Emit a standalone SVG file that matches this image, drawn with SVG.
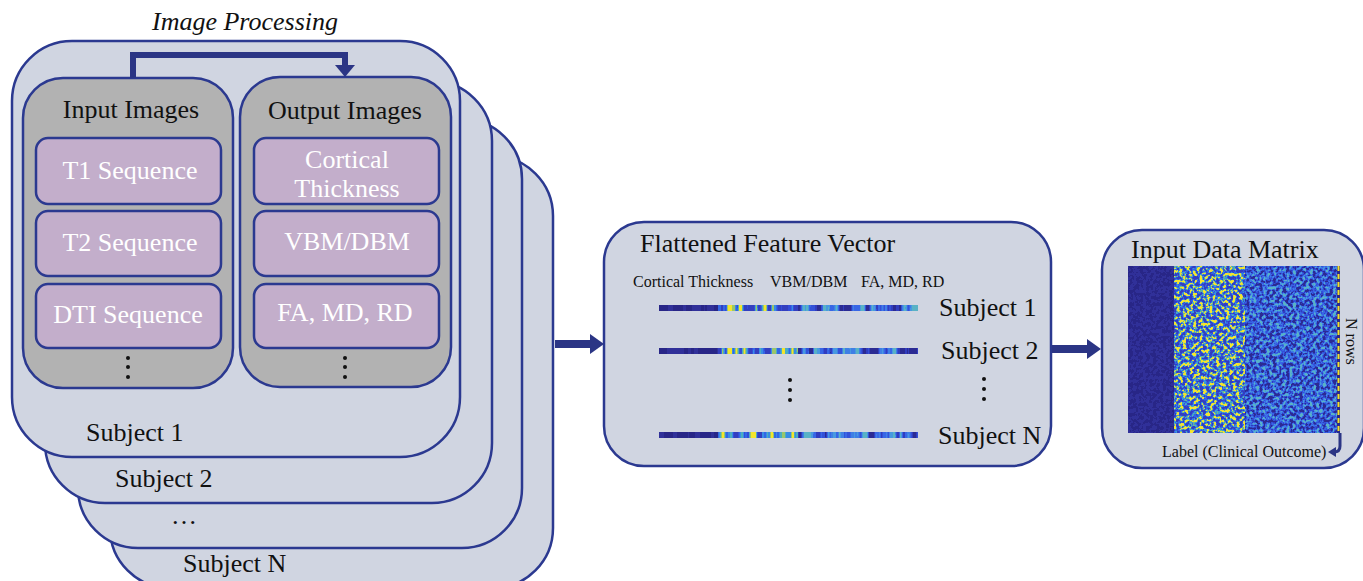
<svg xmlns="http://www.w3.org/2000/svg" width="1363" height="581" viewBox="0 0 1363 581">
<style>
.card{fill:#D0D5E1;stroke:#2B3990;stroke-width:2.5}
.panel{fill:#B2B2B2;stroke:#2B3990;stroke-width:2.5}
.box{fill:#C3AECB;stroke:#2B3990;stroke-width:2.5}
.t{font-family:"Liberation Serif","Times New Roman",serif;font-size:26px;fill:#111}
.w{font-family:"Liberation Serif","Times New Roman",serif;font-size:26px;fill:#fff;text-anchor:middle}
.s{font-family:"Liberation Serif","Times New Roman",serif;font-size:16px;fill:#111}
.c{text-anchor:middle}
.dot{fill:#111}
.arrow{fill:#2B3585}
</style>
<defs>
<filter id="mDark" x="0" y="0" width="1" height="1" color-interpolation-filters="sRGB">
<feTurbulence type="fractalNoise" baseFrequency="0.3" numOctaves="2" seed="2"/>
<feColorMatrix type="matrix" values="1 0 0 0 0 1 0 0 0 0 1 0 0 0 0 0 0 0 0 1"/>
<feComponentTransfer>
<feFuncR type="discrete" tableValues=".16 .16 .16 .16 .16 .16 .16 .16 .16 .16 .19 .19 .19 .19 .19 .19 .19 .19 .19 .19"/>
<feFuncG type="discrete" tableValues=".15 .15 .15 .15 .15 .15 .15 .15 .15 .15 .19 .19 .19 .19 .19 .19 .19 .19 .19 .19"/>
<feFuncB type="discrete" tableValues=".53 .53 .53 .53 .53 .53 .53 .53 .53 .53 .6 .6 .6 .6 .6 .6 .6 .6 .6 .6"/>
</feComponentTransfer>
</filter>
<filter id="mYel" x="0" y="0" width="1" height="1" color-interpolation-filters="sRGB">
<feTurbulence type="fractalNoise" baseFrequency="0.3" numOctaves="2" seed="5"/>
<feColorMatrix type="matrix" values="1 0 0 0 0 1 0 0 0 0 1 0 0 0 0 0 0 0 0 1"/>
<feComponentTransfer>
<feFuncR type="discrete" tableValues=".2 .2 .2 .2 .2 .2 .2 .2 .2 .2 .22 .4 .88 .96 .96 .96 .96 .96 .96 .96"/>
<feFuncG type="discrete" tableValues=".25 .25 .25 .25 .25 .25 .25 .25 .3 .4 .6 .72 .84 .9 .9 .9 .9 .9 .9 .9"/>
<feFuncB type="discrete" tableValues=".75 .75 .75 .75 .75 .75 .75 .75 .85 .9 .85 .6 .28 .18 .18 .18 .18 .18 .18 .18"/>
</feComponentTransfer>
</filter>
<filter id="mBlue" x="0" y="0" width="1" height="1" color-interpolation-filters="sRGB">
<feTurbulence type="fractalNoise" baseFrequency="0.3" numOctaves="2" seed="9"/>
<feColorMatrix type="matrix" values="1 0 0 0 0 1 0 0 0 0 1 0 0 0 0 0 0 0 0 1"/>
<feComponentTransfer>
<feFuncR type="discrete" tableValues=".17 .17 .17 .17 .17 .17 .17 .17 .19 .2 .22 .25 .28 .35 .35 .35 .35 .35 .35 .35"/>
<feFuncG type="discrete" tableValues=".17 .17 .17 .17 .17 .17 .17 .17 .24 .32 .4 .5 .6 .7 .7 .7 .7 .7 .7 .7"/>
<feFuncB type="discrete" tableValues=".58 .58 .58 .58 .58 .58 .58 .58 .75 .85 .9 .9 .88 .78 .78 .78 .78 .78 .78 .78"/>
</feComponentTransfer>
</filter>
<filter id="sDark" x="0" y="0" width="1" height="1" color-interpolation-filters="sRGB">
<feTurbulence type="fractalNoise" baseFrequency="0.18 0.001" numOctaves="2" seed="3"/>
<feColorMatrix type="matrix" values="1 0 0 0 0 1 0 0 0 0 1 0 0 0 0 0 0 0 0 1"/>
<feComponentTransfer>
<feFuncR type="discrete" tableValues=".16 .16 .16 .16 .16 .16 .16 .16 .16 .16 .19 .19 .19 .19 .19 .19 .19 .19 .19 .19"/>
<feFuncG type="discrete" tableValues=".15 .15 .15 .15 .15 .15 .15 .15 .15 .15 .19 .19 .19 .19 .19 .19 .19 .19 .19 .19"/>
<feFuncB type="discrete" tableValues=".53 .53 .53 .53 .53 .53 .53 .53 .53 .53 .6 .6 .6 .6 .6 .6 .6 .6 .6 .6"/>
</feComponentTransfer>
</filter>
<filter id="sYel" x="0" y="0" width="1" height="1" color-interpolation-filters="sRGB">
<feTurbulence type="fractalNoise" baseFrequency="0.18 0.001" numOctaves="2" seed="7"/>
<feColorMatrix type="matrix" values="1 0 0 0 0 1 0 0 0 0 1 0 0 0 0 0 0 0 0 1"/>
<feComponentTransfer>
<feFuncR type="discrete" tableValues=".2 .2 .2 .2 .2 .2 .2 .2 .2 .2 .22 .3 .6 .96 .96 .96 .96 .96 .96 .96"/>
<feFuncG type="discrete" tableValues=".25 .25 .25 .25 .25 .25 .25 .25 .3 .4 .55 .68 .78 .9 .9 .9 .9 .9 .9 .9"/>
<feFuncB type="discrete" tableValues=".75 .75 .75 .75 .75 .75 .75 .75 .85 .9 .9 .75 .42 .18 .18 .18 .18 .18 .18 .18"/>
</feComponentTransfer>
</filter>
<filter id="sBlue" x="0" y="0" width="1" height="1" color-interpolation-filters="sRGB">
<feTurbulence type="fractalNoise" baseFrequency="0.18 0.001" numOctaves="2" seed="11"/>
<feColorMatrix type="matrix" values="1 0 0 0 0 1 0 0 0 0 1 0 0 0 0 0 0 0 0 1"/>
<feComponentTransfer>
<feFuncR type="discrete" tableValues=".17 .17 .17 .17 .17 .17 .17 .17 .19 .2 .22 .25 .28 .35 .35 .35 .35 .35 .35 .35"/>
<feFuncG type="discrete" tableValues=".17 .17 .17 .17 .17 .17 .17 .17 .24 .32 .4 .5 .6 .7 .7 .7 .7 .7 .7 .7"/>
<feFuncB type="discrete" tableValues=".58 .58 .58 .58 .58 .58 .58 .58 .75 .85 .9 .9 .88 .78 .78 .78 .78 .78 .78 .78"/>
</feComponentTransfer>
</filter>
</defs>

<rect width="1363" height="581" fill="#fff"/>

<text class="t c" x="245" y="30" font-style="italic">Image Processing</text>

<g id="subjectN">
<rect class="card" x="110" y="156" width="443" height="432" rx="60"/>
<text class="t" x="183" y="572">Subject N</text>
</g>
<g id="subject3">
<rect class="card" x="78" y="119" width="444" height="429" rx="60"/>
<text class="t" x="171" y="524">…</text>
</g>
<g id="subject2">
<rect class="card" x="45" y="81" width="447" height="422" rx="60"/>
<text class="t" x="115" y="487">Subject 2</text>
</g>
<g id="subject1">
<rect class="card" x="12" y="41" width="448" height="416" rx="60"/>
<text class="t" x="86" y="441">Subject 1</text>
</g>

<g id="input-images">
<rect class="panel" x="23" y="78" width="210" height="310" rx="40"/>
<text class="t c" x="131" y="118">Input Images</text>
<rect class="box" x="36" y="138" width="185" height="66" rx="12"/>
<text class="w" x="130" y="179">T1 Sequence</text>
<rect class="box" x="36" y="211" width="185" height="65" rx="12"/>
<text class="w" x="130" y="251">T2 Sequence</text>
<rect class="box" x="36" y="284" width="185" height="64" rx="12"/>
<text class="w" x="128" y="323">DTI Sequence</text>
<circle class="dot" cx="128" cy="358" r="2"/>
<circle class="dot" cx="128" cy="367" r="2"/>
<circle class="dot" cx="128" cy="377" r="2"/>
</g>

<g id="output-images">
<rect class="panel" x="240" y="77" width="211" height="310" rx="40"/>
<text class="t c" x="345" y="119">Output Images</text>
<rect class="box" x="254" y="138" width="185" height="66" rx="12"/>
<text class="w" x="347" y="168">Cortical</text>
<text class="w" x="347" y="197">Thickness</text>
<rect class="box" x="254" y="211" width="185" height="65" rx="12"/>
<text class="w" x="347" y="250">VBM/DBM</text>
<rect class="box" x="254" y="284" width="185" height="64" rx="12"/>
<text class="w" x="345" y="321">FA, MD, RD</text>
<circle class="dot" cx="345" cy="358" r="2"/>
<circle class="dot" cx="345" cy="367" r="2"/>
<circle class="dot" cx="345" cy="377" r="2"/>
</g>

<g id="flattened-feature-vector">
<rect class="card" x="604" y="222" width="447" height="244" rx="40"/>
<text class="t" x="640" y="252">Flattened Feature Vector</text>
<text class="s" x="633" y="287">Cortical Thickness</text>
<text class="s" x="770" y="287">VBM/DBM</text>
<text class="s" x="861" y="287">FA, MD, RD</text>
<rect x="659" y="305" width="59" height="6" filter="url(#sDark)"/>
<rect x="718" y="305" width="80" height="6" filter="url(#sYel)"/>
<rect x="798" y="305" width="120" height="6" filter="url(#sBlue)"/>
<g transform="translate(300,0)">
<rect x="359" y="348" width="59" height="6" filter="url(#sDark)"/>
<rect x="418" y="348" width="80" height="6" filter="url(#sYel)"/>
<rect x="498" y="348" width="120" height="6" filter="url(#sBlue)"/>
</g>
<g transform="translate(600,0)">
<rect x="59" y="432" width="59" height="6" filter="url(#sDark)"/>
<rect x="118" y="432" width="80" height="6" filter="url(#sYel)"/>
<rect x="198" y="432" width="120" height="6" filter="url(#sBlue)"/>
</g>
<text class="t" x="939" y="316">Subject 1</text>
<text class="t" x="941" y="359">Subject 2</text>
<text class="t" x="938" y="444">Subject N</text>
<circle class="dot" cx="790" cy="380" r="2"/>
<circle class="dot" cx="790" cy="390" r="2"/>
<circle class="dot" cx="790" cy="400" r="2"/>
<circle class="dot" cx="984" cy="379" r="2"/>
<circle class="dot" cx="984" cy="389" r="2"/>
<circle class="dot" cx="984" cy="399" r="2"/>
</g>

<g id="input-data-matrix">
<rect class="card" x="1102" y="230" width="262" height="238" rx="40"/>
<text class="t" x="1131" y="258">Input Data Matrix</text>
<rect x="1128" y="266" width="46" height="167" filter="url(#mDark)"/>
<rect x="1174" y="266" width="71" height="167" filter="url(#mYel)"/>
<rect x="1245" y="266" width="92" height="167" filter="url(#mBlue)"/>
<rect x="1337" y="266" width="3" height="167" fill="#2A2A8C"/>
<line x1="1338.5" y1="266" x2="1338.5" y2="433" stroke="#F2E22A" stroke-width="2" stroke-dasharray="5 3"/>
<text class="s" transform="translate(1346,318) rotate(90)">N rows</text>
<text class="s" x="1162" y="457" font-size="15">Label (Clinical Outcome)</text>
</g>

<g id="connectors">
<path d="M133,78 V55 H345 V66" fill="none" stroke="#2B3585" stroke-width="6"/>
<polygon class="arrow" points="335,65 355,65 345,77"/>
<rect class="arrow" x="555" y="340" width="37" height="8"/>
<polygon class="arrow" points="590,334 604,344 590,354"/>
<rect class="arrow" x="1052" y="345" width="37" height="8"/>
<polygon class="arrow" points="1087,339 1101,349 1087,359"/>
<path d="M1340,433 V446 Q1340,452 1334,452" fill="none" stroke="#2B3585" stroke-width="3"/>
<polygon class="arrow" points="1336,447 1328,452 1336,457"/>
</g>
</svg>
